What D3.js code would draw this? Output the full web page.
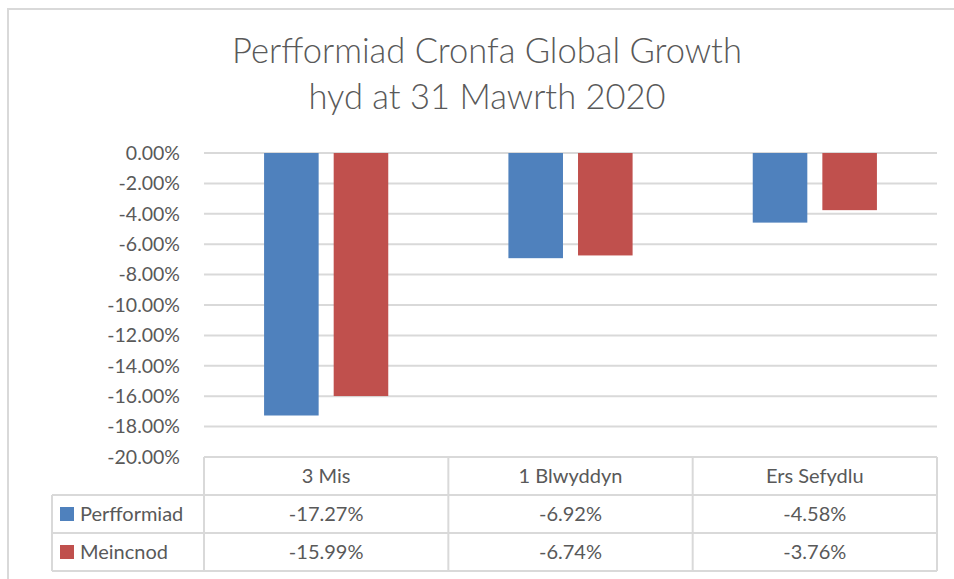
<!DOCTYPE html>
<html>
<head>
<meta charset="utf-8">
<script src="https://cdn.jsdelivr.net/npm/d3@7"></script>
<style>
  body { margin: 0; background: #fff; }
  text { font-family: Lato, "Open Sans", sans-serif; fill: #595959; }
</style>
</head>
<body>
<div id="container"></div>
<script>
// chart data
var titleLines = ["Perfformiad Cronfa Global Growth", "hyd at 31 Mawrth 2020"];
var categories = ["3 Mis", "1 Blwyddyn", "Ers Sefydlu"];
var seriesNames = ["Perfformiad", "Meincnod"];
var perfValues = [-17.27, -6.92, -4.58];
var benchValues = [-15.99, -6.74, -3.76];
var yTicks = [0, -2, -4, -6, -8, -10, -12, -14, -16, -18, -20];
var colors = ["#4F81BD", "#C0504D"];

var width = 954, height = 579;
var plot = { left: 204, right: 937, top: 153, bottom: 457 };
var rowH = 38;

var svg = d3.select("#container").append("svg")
  .attr("width", width)
  .attr("height", height);

// chart area border (cut off at right / bottom)
svg.append("path")
  .attr("d", "M8,579 L8,9 L954,9")
  .attr("fill", "none")
  .attr("stroke", "#d9d9d9")
  .attr("stroke-width", 2);

// title
svg.append("g").selectAll("text")
  .data(titleLines)
  .enter().append("text")
  .attr("x", 487)
  .attr("y", function(d, i) { return 63 + i * 46; })
  .attr("text-anchor", "middle")
  .style("font-size", "34.5px")
  .style("font-weight", 300)
  .text(function(d) { return d; });

// scales
var x = d3.scaleBand().domain(categories).range([plot.left, plot.right]);
var x1 = d3.scaleBand().domain(seriesNames).range([0, x.bandwidth()])
  .paddingInner(0.216).paddingOuter(0.863);
var y = d3.scaleLinear().domain([-20, 0]).range([plot.bottom, plot.top]);

// gridlines
svg.append("g").selectAll("line")
  .data(yTicks.filter(function(d) { return d > -20; }))
  .enter().append("line")
  .attr("x1", plot.left).attr("x2", plot.right)
  .attr("y1", function(d) { return y(d); })
  .attr("y2", function(d) { return y(d); })
  .attr("stroke", "#d9d9d9")
  .attr("stroke-width", 2);

// y axis labels
var fmt = function(d) { return d.toFixed(2) + "%"; };
svg.append("g").selectAll("text")
  .data(yTicks)
  .enter().append("text")
  .attr("x", 180)
  .attr("y", function(d) { return y(d); })
  .attr("dy", "0.35em")
  .attr("text-anchor", "end")
  .style("font-size", "19.5px")
  .text(function(d) { return (d === 0 ? "0.00%" : fmt(d)); });

// bars
var rows = categories.map(function(c, i) {
  return { cat: c, values: [perfValues[i], benchValues[i]] };
});
var groups = svg.append("g").selectAll("g")
  .data(rows)
  .enter().append("g")
  .attr("transform", function(d) { return "translate(" + x(d.cat) + ",0)"; });
groups.selectAll("rect")
  .data(function(d) { return d.values.map(function(v, j) { return { s: seriesNames[j], v: v, j: j }; }); })
  .enter().append("rect")
  .attr("x", function(d) { return x1(d.s); })
  .attr("width", x1.bandwidth())
  .attr("y", y(0))
  .attr("height", function(d) { return y(d.v) - y(0); })
  .attr("fill", function(d) { return colors[d.j]; });

// data table
var table = svg.append("g")
  .attr("fill", "none")
  .attr("stroke", "#d9d9d9")
  .attr("stroke-width", 2);
var tableLeft = 52;
// horizontal lines
table.append("line").attr("x1", plot.left).attr("x2", plot.right)
  .attr("y1", plot.bottom).attr("y2", plot.bottom);
[1, 2, 3].forEach(function(r) {
  table.append("line").attr("x1", tableLeft).attr("x2", plot.right)
    .attr("y1", plot.bottom + r * rowH).attr("y2", plot.bottom + r * rowH);
});
// vertical lines
table.append("line").attr("x1", tableLeft).attr("x2", tableLeft)
  .attr("y1", plot.bottom + rowH).attr("y2", plot.bottom + 3 * rowH);
categories.forEach(function(c) {
  table.append("line").attr("x1", x(c)).attr("x2", x(c))
    .attr("y1", plot.bottom).attr("y2", plot.bottom + 3 * rowH);
});
table.append("line").attr("x1", plot.right).attr("x2", plot.right)
  .attr("y1", plot.bottom).attr("y2", plot.bottom + 3 * rowH);

// header labels
svg.append("g").selectAll("text")
  .data(categories)
  .enter().append("text")
  .attr("x", function(d) { return x(d) + x.bandwidth() / 2; })
  .attr("y", plot.bottom + rowH / 2)
  .attr("dy", "0.35em")
  .attr("text-anchor", "middle")
  .style("font-size", "20px")
  .text(function(d) { return d; });

// series rows
var seriesData = [perfValues, benchValues];
seriesNames.forEach(function(name, j) {
  var cy = plot.bottom + (j + 1) * rowH + rowH / 2;
  svg.append("rect")
    .attr("x", 60).attr("y", cy - 7)
    .attr("width", 14).attr("height", 14)
    .attr("fill", colors[j]);
  svg.append("text")
    .attr("x", 80).attr("y", cy)
    .attr("dy", "0.35em")
    .style("font-size", "20px")
    .text(name);
  svg.append("g").selectAll("text")
    .data(seriesData[j])
    .enter().append("text")
    .attr("x", function(d, i) { return x(categories[i]) + x.bandwidth() / 2; })
    .attr("y", cy)
    .attr("dy", "0.35em")
    .attr("text-anchor", "middle")
    .style("font-size", "20px")
    .text(function(d) { return fmt(d); });
});
</script>
</body>
</html>
